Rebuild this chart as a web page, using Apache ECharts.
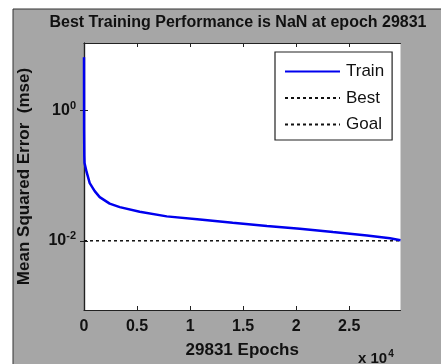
<!DOCTYPE html>
<html>
<head>
<meta charset="utf-8">
<script src="https://cdn.jsdelivr.net/npm/echarts@6/dist/echarts.min.js"></script>
<style>html,body{margin:0;padding:0;background:#fff}#c{width:441px;height:364px}</style>
</head>
<body>
<div id="c"></div>
<script>
// ---- data ----
const epochs   = [0, 10, 30, 50, 250, 540, 1010, 1480, 2420, 3370, 5250, 7800, 10920, 14010, 17240, 20350, 23460, 26670, 28840, 29831];
const trainMse = [6.6, 0.5, 0.2, 0.156, 0.113, 0.0767, 0.0578, 0.0468, 0.0372, 0.0329, 0.0279, 0.0237, 0.0213, 0.0189, 0.0168, 0.0153, 0.0136, 0.0121, 0.0109, 0.0102];
const goalEpochs = [0, 29831];
const goalMse    = [0.01, 0.01];
const bestMse    = [];
const xTicks = [0, 5000, 10000, 15000, 20000, 25000];
const yTicks = [1, 0.01];
const titleText = 'Best Training Performance is NaN at epoch 29831';
const xName = '29831 Epochs';
const yName = 'Mean Squared Error  (mse)';

const FONT = '"Liberation Sans", Arial, sans-serif';
const xMin = 0, xMax = 29831;
const yMin = 0.000865, yMax = 10.89;

const chart = echarts.init(document.getElementById('c'), null, {renderer: 'canvas'});
const tickStyle = {show: true, inside: true, length: 4, lineStyle: {color: '#222', width: 1}};
const lineStyle = {show: true, lineStyle: {color: '#222', width: 1.2}};

chart.setOption({
  animation: false,
  backgroundColor: '#fff',
  graphic: [
    {type: 'rect', z: -10, shape: {x: 13, y: 9, width: 440, height: 370}, style: {fill: '#a6a6a6', stroke: '#333', lineWidth: 1}},
    {type: 'text', x: 238, y: 23, style: {text: titleText, font: 'bold 16px ' + FONT, fill: '#111', align: 'center', verticalAlign: 'middle'}},
    {type: 'text', x: 358, y: 349, style: {
      text: '{b|x 10}{s|4}', fill: '#111',
      rich: {b: {fontSize: 15, fontFamily: FONT, fill: '#111', fontWeight: 'bold'}, s: {fontSize: 10, fontFamily: FONT, fill: '#111', fontWeight: 'bold', padding: [0, 0, 9, 1]}}
    }}
  ],
  grid: {left: 84, top: 43, right: 40.5, bottom: 54, show: true, backgroundColor: '#fff', borderWidth: 0},
  legend: {
    orient: 'vertical', left: 275, top: 52, width: 116,
    padding: [11, 8, 7, 9], itemGap: 9.5, itemWidth: 55, itemHeight: 18,
    backgroundColor: '#fff', borderColor: '#222', borderWidth: 1.2,
    itemStyle: {opacity: 0},
    textStyle: {fontSize: 17, fontFamily: FONT, color: '#111', padding: [0, 0, 0, 1]},
    data: ['Train', 'Best', 'Goal']
  },
  xAxis: [
    {type: 'value', min: xMin, max: xMax, position: 'bottom',
     axisLine: lineStyle, axisTick: Object.assign({customValues: xTicks}, tickStyle), splitLine: {show: false},
     axisLabel: {customValues: xTicks, formatter: v => String(v / 10000), fontSize: 16, fontWeight: 'bold', fontFamily: FONT, color: '#111', margin: 9},
     name: xName, nameLocation: 'middle', nameGap: 32, nameTextStyle: {fontSize: 17, fontWeight: 'bold', fontFamily: FONT, color: '#111'}},
    {type: 'value', min: xMin, max: xMax, position: 'top',
     axisLine: lineStyle, axisTick: Object.assign({customValues: xTicks}, tickStyle), axisLabel: {show: false}, splitLine: {show: false}}
  ],
  yAxis: [
    {type: 'log', logBase: 10, min: yMin, max: yMax, position: 'left',
     axisLine: lineStyle, axisTick: Object.assign({customValues: yTicks}, tickStyle), splitLine: {show: false}, minorTick: {show: false},
     axisLabel: {customValues: yTicks, margin: 8,
       formatter: v => (Math.abs(v - 1) < 1e-9 ? '{b|10}{s|0}' : '{b|10}{s|-2}'),
       rich: {b: {fontSize: 16, fontWeight: 'bold', fontFamily: FONT, color: '#111'}, s: {fontSize: 11, fontWeight: 'bold', fontFamily: FONT, color: '#111', padding: [0, 0, 10, 0]}}},
     name: yName, nameLocation: 'middle', nameGap: 51, nameTextStyle: {fontSize: 17, fontWeight: 'bold', fontFamily: FONT, color: '#111'}},
    {type: 'log', logBase: 10, min: yMin, max: yMax, position: 'right',
     axisLine: lineStyle, axisTick: Object.assign({customValues: yTicks}, tickStyle), axisLabel: {show: false}, splitLine: {show: false}}
  ],
  series: [
    {name: 'Goal', type: 'line', symbol: 'none', z: 2,
     data: goalEpochs.map((e, i) => [e, goalMse[i]]),
     lineStyle: {color: '#111', width: 1.5, type: [3, 3]}, itemStyle: {color: '#111'}},
    {name: 'Best', type: 'line', symbol: 'none', z: 2,
     data: bestMse,
     lineStyle: {color: '#111', width: 1.5, type: [3, 3]}, itemStyle: {color: '#111'}},
    {name: 'Train', type: 'line', symbol: 'none', z: 3,
     data: epochs.map((e, i) => [e, trainMse[i]]),
     lineStyle: {color: '#0000ee', width: 2.5}, itemStyle: {color: '#0000ee'}}
  ]
});
</script>
</body>
</html>
